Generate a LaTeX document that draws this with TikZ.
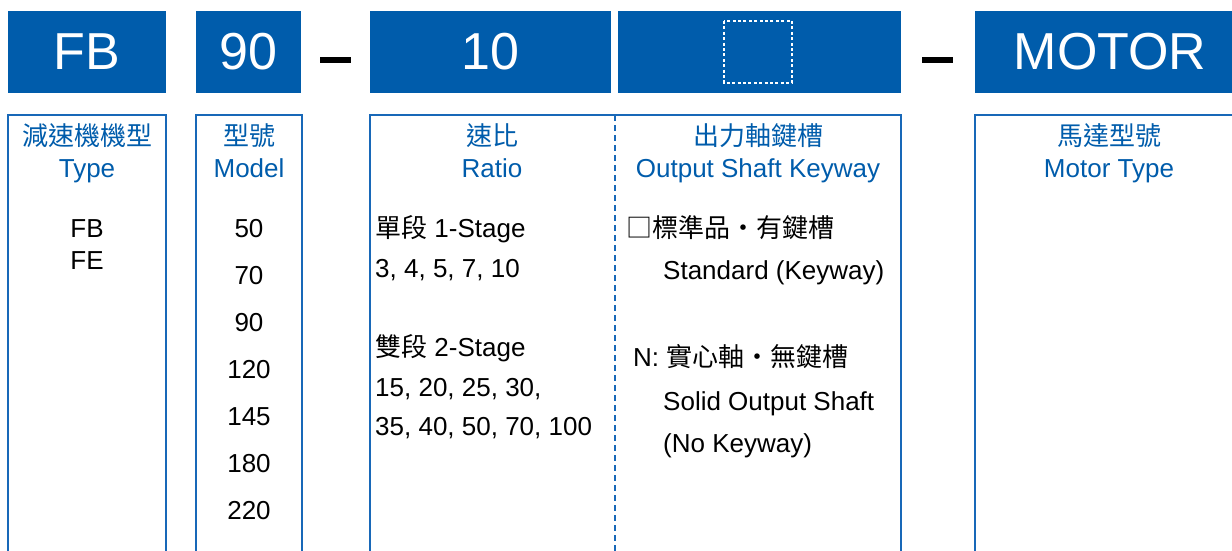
\documentclass[tikz,border=0pt]{standalone}
\usepackage{fontspec}
\setmainfont{Liberation Sans}
\newfontfamily\cjk{Noto Sans CJK TC}
\definecolor{hwBlue}{RGB}{0,92,171}
\definecolor{hwLine}{RGB}{24,104,184}
\tikzset{
  codebox/.style={fill=hwBlue, text=white, inner sep=0pt, minimum height=82pt,
    font=\fontsize{52}{52}\selectfont},
  colframe/.style={draw=hwLine, line width=2pt},
  splitln/.style={draw=hwLine, line width=1.6pt, dash pattern=on 6pt off 4pt},
  headtxt/.style={text=hwBlue, anchor=base, inner sep=0pt, font=\fontsize{26}{30}\selectfont},
  itemtxt/.style={anchor=base, inner sep=0pt, font=\fontsize{26}{30}\selectfont},
}

\begin{document}
\begin{tikzpicture}[x=1pt,y=-1pt]
  \useasboundingbox (0,0) rectangle (1232,550);
  \clip (0,0) rectangle (1232,550);
  % code row
  \node[codebox, minimum width=158pt] (fb) at (87,52) {FB};
  \node[codebox, minimum width=105pt] (model) at (248.5,52) {90};
  \node[codebox, minimum width=241pt] (ratio) at (490.5,52) {10};
  \node[codebox, minimum width=283pt] (keyway) at (759.5,52) {};
  \node[codebox, minimum width=270pt] (motor) at (1110,52) {MOTOR};
  \draw[white, line width=1.4pt, dash pattern=on 3pt off 2.4pt] (724,21) rectangle (792,83);
  % separating dashes
  \fill (320,57) rectangle (351,63);
  \fill (922,57) rectangle (953,63);
  % open frames below
  \draw[colframe] (8,560) |- (166,115) -- (166,560);
  \draw[colframe] (196,560) |- (302,115) -- (302,560);
  \draw[colframe] (370,560) |- (901,115) -- (901,560);
  \draw[splitln] (615,115) -- (615,560);
  \draw[colframe] (975,560) |- (1240,115);
  % column headings
  \node[headtxt] (typecn) at (87,145) {\cjk 減速機機型};
  \node[headtxt] (typeen) at (87,177) {Type};
  \node[headtxt] (modelcn) at (249,145) {\cjk 型號};
  \node[headtxt] (modelen) at (249,177) {Model};
  \node[headtxt] (ratiocn) at (492,145) {\cjk 速比};
  \node[headtxt] (ratioen) at (492,177) {Ratio};
  \node[headtxt] (keycn) at (758,145) {\cjk 出力軸鍵槽};
  \node[headtxt] (keyen) at (758,177) {Output Shaft Keyway};
  \node[headtxt] (motorcn) at (1109,145) {\cjk 馬達型號};
  \node[headtxt] (motoren) at (1109,177) {Motor Type};
  % type
  \node[itemtxt] (fbitem) at (87,237) {FB};
  \node[itemtxt] (feitem) at (87,269) {FE};
  % model sizes
  \foreach \m [count=\i from 0] in {50,70,90,120,145,180,220}
    \node[itemtxt] (m\m) at (249,{237+47*\i}) {\m};
  % ratios
  \node[itemtxt, anchor=base west] (stageone) at (375,237) {{\cjk 單段} 1-Stage};
  \node[itemtxt, anchor=base west] (ratioone) at (375,277) {3, 4, 5, 7, 10};
  \node[itemtxt, anchor=base west] (stagetwo) at (375,356) {{\cjk 雙段} 2-Stage};
  \node[itemtxt, anchor=base west] (ratiotwoa) at (375,396) {15, 20, 25, 30,};
  \node[itemtxt, anchor=base west] (ratiotwob) at (375,435) {35, 40, 50, 70, 100};
  % keyway options
  \node[itemtxt, anchor=base west] (stdcn) at (626,237) {\cjk □標準品・有鍵槽};
  \node[itemtxt, anchor=base west] (stden) at (663,279) {Standard (Keyway)};
  \node[itemtxt, anchor=base west] (solidcn) at (633,366) {N: {\cjk 實心軸・無鍵槽}};
  \node[itemtxt, anchor=base west] (soliden) at (663,410) {Solid Output Shaft};
  \node[itemtxt, anchor=base west] (nokey) at (663,452) {(No Keyway)};
\end{tikzpicture}
\end{document}
